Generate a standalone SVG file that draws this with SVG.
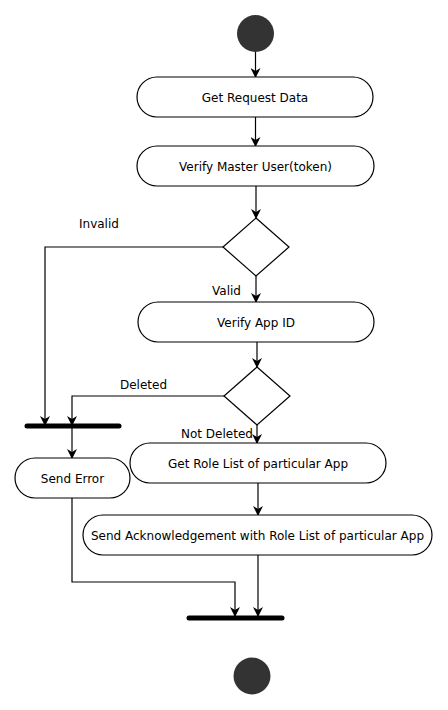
<svg xmlns="http://www.w3.org/2000/svg" width="448" height="710" viewBox="0 0 448 710">
<defs>
<marker id="ah" markerWidth="10" markerHeight="10" refX="9" refY="5" orient="auto" markerUnits="userSpaceOnUse">
<path d="M0,0 L10,5 L0,10 L3,5 Z" fill="#000"/>
</marker>
</defs>
<style>
.act{fill:#fff;stroke:#000;stroke-width:1.2}
.dec{fill:#fff;stroke:#000;stroke-width:1.2}
.dot{fill:#333;stroke:none}
.bar{stroke:#000;stroke-width:5;stroke-linecap:round}
.t{font-family:"DejaVu Sans",sans-serif;font-size:12px;fill:#000}
.c{text-anchor:middle}
.e{fill:none;stroke:#000;stroke-width:1.2;marker-end:url(#ah)}
</style>
<rect width="448" height="710" fill="#fff"/>
<g id="connectors">
<path class="e" d="M255.5,52 V77"/>
<path class="e" d="M255.5,117 V146"/>
<path class="e" d="M256,186 V218"/>
<path class="e" d="M223,247 H45 V425"/>
<path class="e" d="M256,276 V302"/>
<path class="e" d="M257,342 V367"/>
<path class="e" d="M224,396 H72 V425"/>
<path class="e" d="M257,425 V443"/>
<path class="e" d="M72,428 V458"/>
<path class="e" d="M258,483 V515"/>
<path class="e" d="M72,498 V582 H235 V616"/>
<path class="e" d="M258,555 V616"/>
<text class="t" x="79" y="228">Invalid</text>
<text class="t" x="212" y="295">Valid</text>
<text class="t" x="120" y="389">Deleted</text>
<text class="t" x="181" y="438">Not Deleted</text>
</g>
<g id="start"><circle class="dot" cx="255.5" cy="33.5" r="18.5"/></g>
<g id="n1"><rect class="act" x="137" y="77" width="236" height="40" rx="20"/><text class="t c" x="255" y="102">Get Request Data</text></g>
<g id="n2"><rect class="act" x="137" y="146" width="237" height="40" rx="20"/><text class="t c" x="255.5" y="171">Verify Master User(token)</text></g>
<g id="d1"><polygon class="dec" points="256,218 289,247 256,276 223,247"/></g>
<g id="n3"><rect class="act" x="138" y="302" width="236" height="40" rx="20"/><text class="t c" x="256" y="327">Verify App ID</text></g>
<g id="d2"><polygon class="dec" points="257,367 290,396 257,425 224,396"/></g>
<g id="fork1"><line class="bar" x1="27" y1="426" x2="119" y2="426"/></g>
<g id="n4"><rect class="act" x="15" y="458" width="115" height="40" rx="20"/><text class="t c" x="72.5" y="483">Send Error</text></g>
<g id="n5"><rect class="act" x="130" y="443" width="256" height="40" rx="20"/><text class="t c" x="258" y="468">Get Role List of particular App</text></g>
<g id="n6"><rect class="act" x="83" y="515" width="349" height="40" rx="20"/><text class="t c" x="257.5" y="540">Send Acknowledgement with Role List of particular App</text></g>
<g id="join"><line class="bar" x1="189" y1="618" x2="282" y2="618"/></g>
<g id="end"><circle class="dot" cx="252" cy="676" r="18.5"/></g>
</svg>
